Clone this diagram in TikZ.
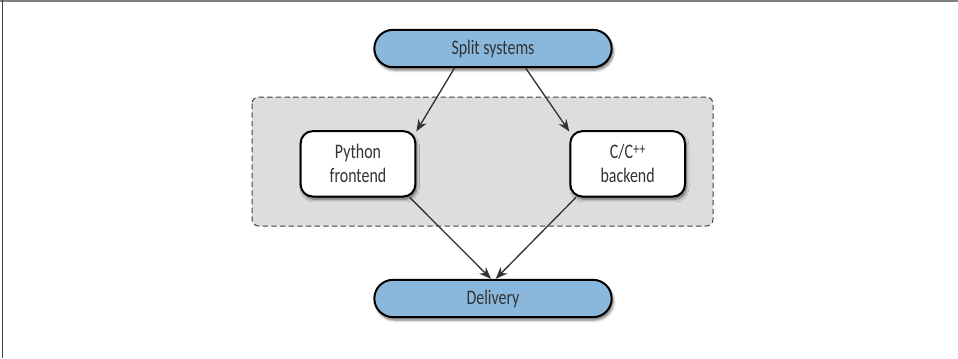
\documentclass[tikz,border=0pt]{standalone}
\usepackage{fontspec}
\setmainfont{Carlito}[FakeStretch=0.77]
\usepackage{xcolor}
\usetikzlibrary{arrows.meta, positioning, shadows.blur, backgrounds}
\definecolor{pillblue}{HTML}{8AB8DC}
\definecolor{boxgray}{HTML}{DDDDDD}
\definecolor{inkgray}{HTML}{333333}

\begin{document}
\begin{tikzpicture}[
        x=0.75pt, y=0.75pt,
        pill/.style={draw=black, line width=1.5pt, fill=pillblue, rounded corners=14pt, minimum width=178pt, minimum height=28pt, text=inkgray, font=\fontsize{15.5}{18}\selectfont, blur shadow={shadow xshift=1.2pt, shadow yshift=-2.2pt, shadow blur steps=6, shadow opacity=55}},
        part/.style={draw=black, line width=1.5pt, fill=white, rounded corners=9pt, minimum width=86pt, minimum height=49pt, align=center, text=inkgray, font=\fontsize{15.5}{18}\selectfont, blur shadow={shadow xshift=1.2pt, shadow yshift=-2.2pt, shadow blur steps=6, shadow opacity=55}},
        group/.style={draw=black!75, fill=boxgray, line width=0.75pt, dash pattern=on 4pt off 2.5pt, rounded corners=5pt},
        flow/.style={-{Stealth[length=9pt, width=7pt]}, draw=inkgray, line width=1pt}
    ]
    \useasboundingbox (0,0) rectangle (958,-358);
    \draw[black!50, line width=1.5pt] (0,-1) -- (958,-1);
    \draw[black!75, line width=0.75pt] (2,0) -- (2,-358);

    \node[pill] (split) at (493,-48.5) {Split systems};
    \node[part, below=46.5pt of split, xshift=-101.25pt] (python) {Python\\frontend};
    \node[part, right=114.75pt of python] (cpp) {C/C\raisebox{0.45ex}{\fontsize{12}{12}\selectfont ++}\\backend};
    \node[pill, below=158pt of split] (delivery) {Delivery};

    \begin{scope}[on background layer]
        \draw[group] (252,-97) rectangle (713,-226);
    \end{scope}

    \draw[flow] (split.207) -- (python.29);
    \draw[flow] (split.-31) -- (cpp.151);
    \draw[flow] (python.-33) -- ([xshift=-1.5pt]delivery.north);
    \draw[flow] (cpp.-147) -- ([xshift=2pt]delivery.north);
\end{tikzpicture}
\end{document}
